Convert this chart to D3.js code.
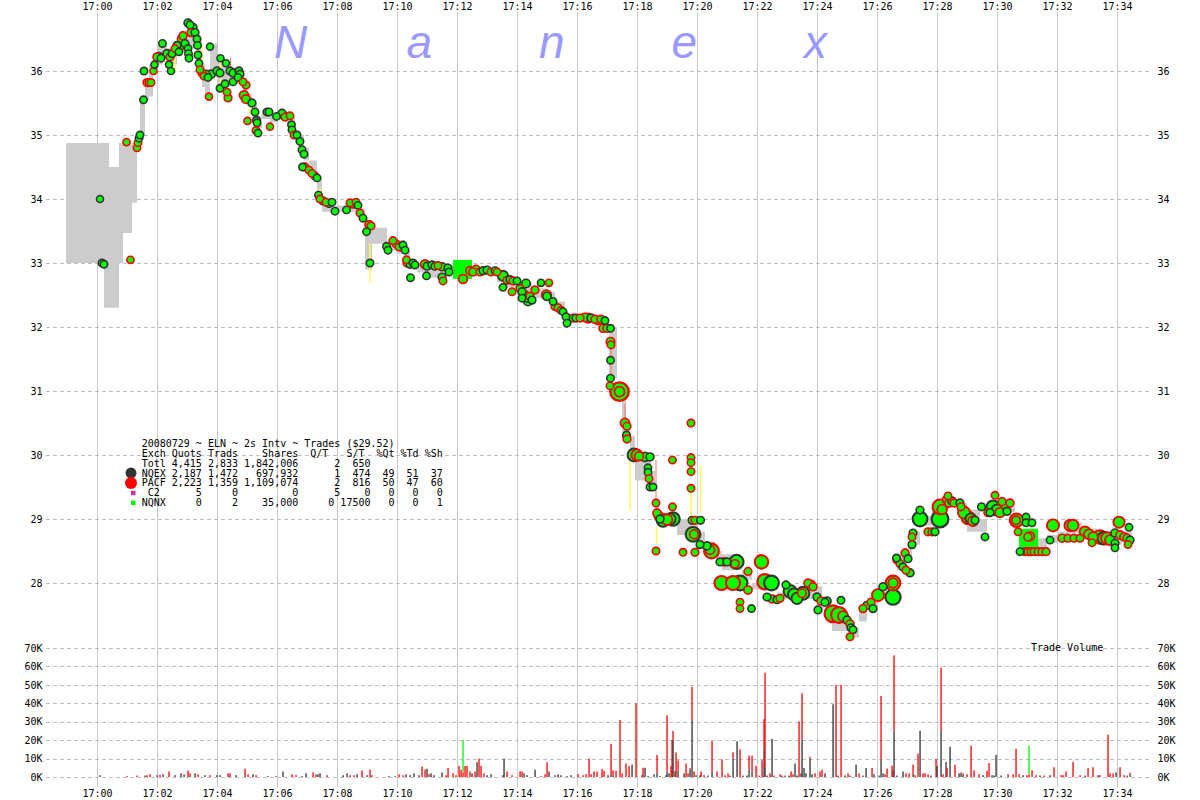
<!DOCTYPE html>
<html><head><meta charset="utf-8">
<script src="https://cdn.jsdelivr.net/npm/d3@7"></script>
<style>
body{margin:0;background:#fff}
svg{display:block}
text{font-family:"DejaVu Sans Mono",monospace;font-size:10px;fill:#000}
</style>
</head><body>
<svg id="chart" width="1200" height="800"></svg>
<script>
// ---------- tick values ----------
const timeTicks = [0,120,240,360,480,600,720,840,960,1080,1200,1320,1440,1560,1680,1800,1920,2040]; // seconds after 17:00:00
const priceTicks = [28,29,30,31,32,33,34,35,36];
const volumeTicks = [0,10,20,30,40,50,60,70]; // thousands of shares
const watermark = ["N","a","n","e","x"];

// ---------- legend table ----------
const legendTitle = "20080729 ~ ELN ~ 2s Intv ~ Trades ($29.52)";
const legendHeader = ["Exch","Quots","Trads","Shares","Q/T","S/T","%Qt","%Td","%Sh"];
const legendRows = [
  ["Totl","4,415","2,833","1,842,006","2","650","","",""],
  ["NQEX","2,187","1,472","697,932","1","474","49","51","37"],
  ["PACF","2,223","1,359","1,109,074","2","816","50","47","60"],
  [" C2","5","0","0","5","0","0","0","0"],
  ["NQNX","0","2","35,000","0","17500","0","0","1"]
];
const legendSwatch = ["", "", "", "NQEX", "PACF", "C2", "NQNX"];

// ---------- quotes: [t(s), low, high] step band ----------
const quotes = [
[-62,33.0,34.875],[14,32.3,34.875],[24,32.3,34.5],[44,33.0,34.875],[52,33.47,34.875],[70,33.94,34.875],[80,34.75,35.0],[86,35.0,35.6],[96,35.55,35.85],[104,35.6,36.1],[112,35.95,36.2],[120,36.1,36.4],[132,36.2,36.45],[140,36.1,36.35],[160,36.3,36.45],[180,36.35,36.6],[200,36.2,36.5],[210,35.75,36.1],[216,35.58,36.0],[226,35.9,36.43],[240,35.7,36.15],[256,35.75,36.05],[266,35.85,36.05],[280,35.8,36.0],[292,35.55,35.9],[300,35.45,35.65],[310,35.2,35.5],[320,35.1,35.3],[330,35.25,35.4],[346,35.2,35.33],[360,35.25,35.38],[376,35.2,35.35],[386,35.05,35.3],[396,34.9,35.05],[406,34.75,35.0],[414,34.6,34.8],[424,34.4,34.6],[440,34.0,34.35],[450,33.8,34.0],[476,33.8,33.9],[500,33.8,33.95],[526,33.65,33.85],[536,32.9,33.55],[550,33.3,33.55],[580,33.2,33.35],[600,33.15,33.35],[616,33.0,33.2],[626,32.9,33.05],[640,32.85,33.0],[660,32.77,32.97],[690,32.85,32.97],[720,32.72,32.92],[740,32.8,32.9],[780,32.82,32.9],[800,32.7,32.85],[820,32.62,32.78],[846,32.55,32.7],[870,32.45,32.6],[900,32.45,32.55],[916,32.25,32.4],[936,32.05,32.2],[950,32.1,32.16],[980,32.1,32.16],[1000,32.05,32.15],[1016,31.95,32.05],[1024,31.2,32.0],[1040,30.95,31.05],[1050,30.35,30.95],[1058,30.3,30.5],[1066,30.0,30.3],[1076,29.6,30.0],[1084,29.6,29.95],[1100,29.7,29.95],[1108,29.45,29.75],[1116,29.1,29.3],[1124,28.95,29.1],[1140,28.95,29.1],[1160,28.75,29.0],[1180,28.7,28.95],[1200,28.65,28.8],[1216,28.55,28.65],[1236,28.4,28.5],[1250,28.2,28.45],[1270,28.2,28.3],[1290,28.05,28.2],[1310,27.9,28.0],[1330,27.9,28.05],[1360,27.75,27.85],[1380,27.85,27.95],[1400,27.75,27.9],[1430,27.8,27.95],[1450,27.6,27.75],[1470,27.25,27.6],[1490,27.25,27.45],[1510,27.15,27.3],[1524,27.4,27.6],[1540,27.6,27.7],[1560,27.75,27.85],[1580,27.9,28.0],[1600,28.2,28.45],[1616,28.4,28.55],[1630,28.6,28.8],[1646,28.9,29.05],[1670,28.95,29.2],[1700,29.2,29.3],[1720,29.15,29.25],[1740,28.8,29.15],[1766,28.8,29.0],[1780,29.05,29.15],[1800,29.1,29.2],[1820,29.1,29.2],[1836,28.9,29.0],[1846,28.48,28.72],[1880,28.55,28.7],[1900,28.62,28.75],[1920,28.7,28.8],[1940,28.78,28.94],[1970,28.7,28.85],[2000,28.65,28.8],[2030,28.6,28.8],[2050,28.65,28.8],[2070,28.65,28.8]
];

// ---------- vertical quote flashes: [t, low, high] ----------
const yellowLines = [[156,35.98,36.28],[210,36.09,36.4],[247,35.78,36.14],[306,35.31,35.5],[446,34.03,34.17],[546,32.7,33.31],[1066,29.14,29.92],[1119,28.6,28.875],[1188,28.98,29.42],[1207,29.1,29.83]];
const redLines = [[267,35.86,36.2],[1028,31.05,31.72],[1118,29.3,29.92],[1056,30.8,30.5]];

// ---------- trades: [t(s), price, shares, exch] ----------
const trades = [
[6,34.0,200,"Q"],[10,33.0,300,"Q"],[14,32.98,300,"Q"],[59,34.89,250,"P"],[67,33.05,250,"P"],
[80,34.8,300,"P"],[82,34.88,300,"P"],[84,34.95,300,"Q"],[86,35.0,300,"Q"],
[93,35.55,300,"Q"],[94,36.0,300,"Q"],[100,35.82,400,"P"],[104,35.82,400,"P"],[108,35.82,300,"P"],
[113,36.0,200,"P"],[115,36.1,200,"Q"],[120,36.22,500,"P"],[124,36.22,800,"Q"],[128,36.2,300,"Q"],[131,36.43,300,"Q"],
[140,36.27,600,"Q"],[146,36.22,400,"P"],[150,36.27,300,"Q"],[144,36.1,200,"Q"],[148,36.0,200,"Q"],
[156,36.35,300,"P"],[160,36.4,400,"Q"],[164,36.3,300,"Q"],[166,36.38,500,"P"],[169,36.5,600,"P"],[176,36.43,400,"Q"],[172,36.55,500,"P"],
[182,36.75,500,"Q"],[186,36.72,400,"Q"],[192,36.68,500,"Q"],[188,36.6,400,"P"],[196,36.6,400,"Q"],
[182,36.35,300,"Q"],[183,36.27,300,"Q"],[184,36.2,300,"Q"],
[200,36.5,300,"Q"],[201,36.4,300,"Q"],[202,36.25,300,"Q"],[204,36.12,300,"Q"],[206,36.02,300,"P"],
[210,35.97,400,"P"],[214,35.92,300,"P"],[218,35.95,500,"Q"],[222,35.9,300,"Q"],[228,35.95,600,"Q"],[226,36.38,200,"Q"],[224,35.6,200,"P"],
[240,36.0,400,"Q"],[246,35.97,400,"Q"],[247,36.2,200,"Q"],[258,36.12,200,"Q"],[246,35.73,300,"Q"],[256,35.8,300,"Q"],[260,35.67,300,"P"],[262,35.58,400,"P"],
[266,36.0,400,"Q"],[272,35.97,400,"Q"],[278,35.97,500,"P"],[284,36.0,400,"Q"],[286,35.95,400,"Q"],[272,35.83,300,"Q"],[282,35.9,300,"Q"],
[292,35.83,300,"P"],[298,35.78,400,"P"],[294,35.62,1200,"P"],[298,35.56,800,"P"],[301,35.22,200,"P"],
[310,35.5,400,"Q"],[316,35.36,300,"Q"],[319,35.23,300,"Q"],[320,35.19,300,"Q"],[318,35.07,300,"P"],[322,35.03,300,"Q"],
[340,35.36,300,"Q"],[344,35.36,300,"Q"],[346,35.13,200,"P"],[359,35.29,300,"Q"],[370,35.34,400,"Q"],[374,35.3,500,"Q"],[376,35.28,400,"P"],[386,35.3,300,"P"],
[389,35.16,300,"Q"],[390,35.08,300,"Q"],[394,35.0,300,"P"],[400,35.0,300,"Q"],[406,34.9,300,"Q"],[410,34.77,300,"Q"],[414,34.7,300,"Q"],[411,34.5,300,"Q"],
[416,34.5,400,"P"],[424,34.45,300,"P"],[430,34.4,300,"P"],[436,34.36,400,"P"],[440,34.33,300,"Q"],
[443,34.06,300,"Q"],[446,34.0,300,"P"],[452,33.97,400,"Q"],[458,33.95,300,"P"],[464,33.93,400,"Q"],[470,33.95,300,"Q"],[476,33.81,300,"Q"],
[499,33.83,300,"Q"],[506,33.94,300,"P"],[512,33.92,400,"P"],[518,33.95,300,"P"],[522,33.9,300,"Q"],[526,33.78,300,"P"],[532,33.7,300,"Q"],
[539,33.49,300,"Q"],[544,33.6,600,"P"],[546,33.0,300,"Q"],[548,33.58,400,"P"],
[579,33.26,300,"Q"],[582,33.2,300,"Q"],[592,33.35,300,"P"],[598,33.3,400,"P"],[604,33.25,300,"P"],[612,33.28,300,"Q"],[616,33.2,300,"Q"],[619,33.05,300,"P"],
[620,33.0,400,"P"],[626,32.98,400,"Q"],[632,33.0,300,"Q"],[636,32.97,300,"Q"],[627,32.77,300,"Q"],
[656,32.98,1000,"P"],[660,32.95,400,"Q"],[659,32.8,300,"Q"],
[670,32.97,400,"Q"],[676,32.95,400,"Q"],[682,32.96,300,"P"],[690,32.94,500,"Q"],[690,32.78,400,"Q"],[692,32.72,300,"P"],[702,32.92,400,"Q"],[704,32.86,300,"Q"],
[731,32.9,17500,"N"],
[732,32.75,1000,"P"],[746,32.88,600,"P"],[752,32.86,500,"P"],[758,32.9,600,"P"],[766,32.86,400,"P"],[772,32.88,400,"Q"],[780,32.89,400,"Q"],[788,32.86,300,"P"],[796,32.88,300,"Q"],[800,32.86,300,"P"],
[812,32.8,2000,"Q"],[820,32.73,400,"P"],[826,32.74,400,"Q"],[832,32.72,400,"P"],[812,32.62,300,"Q"],[830,32.55,300,"P"],[840,32.72,300,"Q"],[858,32.68,800,"Q"],
[846,32.6,500,"P"],[850,32.55,500,"Q"],[856,32.5,600,"P"],[860,32.45,500,"Q"],[866,32.48,500,"P"],[870,32.42,400,"Q"],[850,32.45,300,"Q"],[876,32.58,400,"P"],[862,32.4,800,"Q"],
[888,32.69,200,"Q"],[904,32.69,200,"P"],[899,32.5,1500,"P"],[900,32.48,600,"Q"],[912,32.4,300,"Q"],[916,32.32,400,"P"],[922,32.3,400,"P"],[928,32.26,300,"P"],[932,32.24,300,"Q"],
[938,32.16,300,"Q"],[940,32.06,300,"Q"],[952,32.14,400,"P"],[958,32.14,400,"Q"],[966,32.14,400,"P"],[976,32.15,700,"P"],[982,32.14,1500,"P"],[988,32.14,500,"Q"],[996,32.12,500,"P"],[1002,32.1,600,"P"],[1008,32.12,500,"P"],[1016,32.1,300,"Q"],
[1012,31.98,500,"P"],[1020,31.98,500,"P"],[1027,31.98,300,"Q"],[1027,31.77,800,"P"],[1028,31.72,300,"P"],[1027,31.48,300,"Q"],[1027,31.2,300,"Q"],[1026,31.08,300,"P"],[1045,30.99,16000,"P"],[1045,30.99,2000,"P"],
[1056,30.5,1200,"P"],[1060,30.45,400,"P"],[1059,30.31,400,"Q"],[1060,30.25,400,"P"],
[1074,30.0,5000,"Q"],[1080,30.0,3000,"P"],[1084,29.98,1000,"P"],[1096,29.97,1200,"Q"],[1106,29.97,500,"Q"],[1102,29.8,300,"Q"],[1102,29.73,300,"Q"],[1104,29.63,300,"P"],[1106,29.5,300,"Q"],[1112,29.5,300,"Q"],
[1118,29.25,300,"P"],[1120,29.09,600,"P"],[1124,29.04,1200,"P"],[1126,29.0,500,"Q"],[1118,28.5,300,"P"],
[1132,28.98,5000,"Q"],[1140,28.99,2500,"P"],[1146,29.0,3000,"Q"],[1152,29.0,6000,"Q"],[1151,29.92,300,"P"],[1151,29.19,300,"P"],
[1188,30.5,300,"P"],[1188,29.96,300,"P"],[1188,29.88,300,"P"],[1188,29.74,300,"P"],[1188,29.48,300,"P"],
[1190,28.98,400,"Q"],[1196,28.98,400,"P"],[1207,28.98,400,"Q"],[1192,28.76,8000,"Q"],[1194,28.76,1000,"P"],
[1172,28.48,300,"P"],[1196,28.48,400,"P"],[1206,28.6,400,"Q"],[1229,28.5,8000,"P"],[1226,28.52,1200,"P"],[1220,28.58,500,"Q"],
[1246,28.33,400,"Q"],[1254,28.33,500,"P"],[1260,28.33,400,"Q"],[1279,28.33,7000,"Q"],[1276,28.3,600,"P"],
[1249,28.0,7000,"P"],[1272,28.0,7000,"P"],[1286,28.0,8000,"Q"],[1302,27.89,600,"P"],[1286,27.7,300,"P"],[1286,27.6,300,"P"],[1309,27.6,300,"Q"],[1302,28.18,400,"P"],
[1329,28.33,6000,"P"],[1336,28.02,9000,"P"],[1349,28.0,8000,"Q"],[1340,27.78,400,"Q"],[1350,27.75,500,"P"],[1360,27.74,400,"Q"],[1366,27.76,400,"P"],
[1378,27.97,400,"Q"],[1386,27.87,5000,"Q"],[1394,27.82,4000,"Q"],[1400,27.76,3000,"Q"],[1412,27.84,5000,"Q"],[1410,27.84,800,"P"],[1422,28.0,500,"P"],[1428,27.98,600,"P"],[1432,27.94,500,"P"],
[1440,27.78,500,"Q"],[1448,27.72,500,"P"],[1456,27.7,400,"Q"],[1460,27.72,500,"Q"],[1442,27.58,400,"Q"],
[1472,27.52,12000,"P"],[1484,27.5,10000,"P"],[1492,27.48,2000,"P"],[1488,27.73,300,"Q"],
[1500,27.42,500,"Q"],[1506,27.36,500,"P"],[1508,27.3,400,"Q"],[1512,27.27,300,"Q"],[1506,27.16,300,"P"],
[1532,27.6,400,"P"],[1540,27.65,500,"Q"],[1548,27.7,400,"P"],[1552,27.6,400,"Q"],[1562,27.81,4000,"P"],[1572,27.94,500,"Q"],[1592,28.0,8000,"P"],[1592,28.0,1500,"P"],[1592,27.78,9000,"Q"],
[1600,28.36,500,"P"],[1606,28.3,400,"P"],[1612,28.25,400,"Q"],[1618,28.2,400,"P"],[1626,28.16,500,"Q"],[1599,28.39,300,"Q"],[1616,28.47,400,"P"],[1622,28.38,400,"Q"],[1630,28.6,400,"Q"],[1632,28.78,400,"Q"],[1630,28.72,300,"P"],
[1646,29.0,8000,"Q"],[1646,29.14,400,"Q"],[1662,28.8,400,"P"],[1670,28.8,400,"P"],[1676,28.8,400,"Q"],[1686,29.0,12000,"Q"],[1686,29.19,8000,"P"],[1690,29.15,1500,"P"],
[1700,29.3,1000,"P"],[1704,29.25,600,"P"],[1710,29.28,600,"Q"],[1702,29.36,300,"P"],[1714,29.25,500,"P"],[1726,29.25,400,"Q"],[1728,29.19,400,"P"],
[1734,29.1,4000,"P"],[1742,29.02,5000,"P"],[1748,29.0,3000,"Q"],[1752,28.97,2000,"P"],[1756,28.98,400,"Q"],[1769,29.19,400,"Q"],[1776,28.72,300,"Q"],[1782,29.1,500,"P"],[1786,29.1,400,"Q"],
[1796,29.37,300,"P"],[1792,29.19,5000,"Q"],[1800,29.14,3000,"Q"],[1806,29.1,1500,"P"],[1816,29.22,600,"P"],[1820,29.12,500,"Q"],[1826,29.25,500,"P"],[1810,29.27,500,"P"],
[1839,28.98,6000,"P"],[1838,28.98,800,"P"],[1842,28.8,300,"P"],[1846,28.49,300,"Q"],[1858,29.03,300,"Q"],[1858,28.94,300,"Q"],
[1863,28.7,17500,"N"],
[1862,28.72,600,"P"],[1866,28.73,1000,"P"],[1856,28.49,400,"P"],[1862,28.49,400,"P"],[1868,28.49,400,"P"],[1874,28.49,400,"P"],[1882,28.49,400,"P"],[1890,28.49,400,"P"],[1898,28.49,400,"P"],[1870,28.94,300,"Q"],
[1906,28.67,300,"Q"],[1912,28.9,4000,"P"],[1930,28.7,500,"P"],[1942,28.7,400,"P"],[1954,28.7,400,"P"],[1966,28.7,400,"P"],[1946,28.9,3000,"P"],[1952,28.9,3000,"P"],
[1976,28.8,2500,"P"],[1984,28.76,2000,"P"],[1992,28.72,1500,"P"],[1990,28.63,300,"P"],[2006,28.72,6000,"P"],[2014,28.7,5000,"Q"],[2020,28.7,4000,"P"],[2026,28.67,2000,"P"],
[2036,28.78,600,"Q"],[2036,28.62,400,"Q"],[2036,28.55,300,"Q"],[2044,28.95,3000,"P"],[2046,28.75,600,"P"],[2054,28.72,600,"P"],[2060,28.7,500,"P"],[2064,28.87,300,"Q"],[2066,28.67,400,"Q"],[2062,28.6,300,"P"]
];

// ---------- volume per 2s interval: [t, NQEX, PACF, NQNX] (thousands) ----------
const volume = [
[6,1,0,0],[60,0,0.5,0],[80,0,0.8,0],[96,0.8,0,0],[100,0,1,0],[106,0,1.5,0],[120,1,0,0],[126,0,1.2,0],[132,1.5,0,0],[144,0,3,0],[156,1,0,0],[168,2,0,0],[174,1,0.5,0],[182,0.5,3,0],[186,0,2,0],[196,2,0,0],[202,0,1.5,0],[216,1,0,0],[226,0,1,0],[240,1,0,0],[246,1,0,0],[262,0,2,0],[266,0.5,1.5,0],[278,1,0,0],[296,0.5,4,0],[302,0,1.5,0],[312,1.5,0,0],[318,0,1,0],[342,0.5,0,0],[358,0,0.5,0],
[372,3,0,0],[390,0,1.5,0],[398,0,1,0],[410,0.5,0,0],[418,2,0,0],[432,0,2.5,0],[438,0,1.5,0],[442,1.5,0,0],[446,2,0,0],[460,0,1,0],[492,1,0,0],[500,2,0,0],[506,0,1,0],[514,0,1,0],[520,1.5,0,0],[530,0,3.5,0],[540,1,0,0],[546,0,4,0],[550,0,1,0],[584,0.5,0,0],[596,0.5,0,0],[604,0,1.5,0],[612,0,1,0],[618,1.5,0,0],[626,1,0,0],[634,2,0,0],[644,1,0,0],
[650,0,5.7,0],[656,0,4,0],[660,4.5,0,0],[664,0,1.5,0],[668,2,0,0],[674,1,0,0],[690,2.5,0,0],[698,0,1,0],[702,0,5,0],[712,0,2,0],[718,0,1,0],[724,0,6,0],[728,0,4,0],[732,0,2.5,17.5],[736,0,6,0],[740,0,6,0],[746,0,3,0],[750,2,0,0],[756,0,3,0],[760,8,0,0],[764,0,10,0],[768,0,6,0],[774,0,2,0],[780,1,0,0],[788,1.5,0,0],
[812,1,0,0],[814,10,0,0],[820,0,3,0],[830,0,1,0],[846,0,3,0],[850,0,3,0],[854,2,0,0],[860,1,0,0],[876,4,0,0],[888,0,0.5,0],[896,0,1.5,0],[900,0,8,0],[904,3,0,0],[916,1,0,0],[922,1.5,0,0],[928,1,0,0],[940,0.5,0,0],[948,1,0,0],[962,0,1.5,0],[972,0,1,0],[978,0,1.5,0],[984,0,10,0],[988,0,1.5,0],[994,0,3,0],
[1000,0.5,2.5,0],[1010,0,4.3,0],[1014,0,3.4,0],[1022,1,0,0],[1028,1.5,16.5,0],[1032,0,3.6,0],[1038,0,3.4,0],[1046,0,31,0],[1050,0,2,0],[1058,0,7.3,0],[1064,1,5,0],[1070,6.7,0,0],[1078,0,40,0],[1090,1,0,0],[1092,0,5,0],[1096,5,0,0],[1102,0.5,0,0],[1114,1.5,0,0],[1120,2,10,0],[1126,0.5,0,0],[1138,1,0,0],[1140,3,30.5,0],[1144,2,0,0],[1148,0,6,0],[1150,0,20,0],[1152,20,5,0],[1156,3.3,0,0],[1158,0,13.3,0],[1162,3.5,5.5,0],[1174,2,0,0],[1178,0,7.3,0],[1182,0,2,0],[1186,3.8,1,0],[1190,31,18,0],[1194,0,3,0],[1198,1,0,0],
[1206,1,0,0],[1208,0,3,0],[1214,0,1,0],[1222,0.8,0,0],[1230,3,16.5,0],[1240,0,3,0],[1250,0,9.5,0],[1256,0.8,0,0],[1262,0,2,0],[1266,0.8,0,0],[1272,10,3.4,0],[1280,19.4,0,0],[1286,0,15,0],[1292,0.8,0,0],[1300,0.8,0,0],[1304,4,7.6,0],[1310,3,8.6,0],[1318,0,6,0],[1324,0,0.8,0],[1330,0,9.1,0],[1334,15.9,15.5,0],[1336,5,51.5,0],[1340,0.8,0,0],[1346,0,2,0],[1350,20.7,0,0],[1354,0,0.8,0],[1366,0,1.5,0],[1370,0.8,0,0],[1376,0.8,0,0],[1384,0.8,0,0],[1388,0,3,0],[1392,0,1.5,0],[1396,7.3,0,0],
[1400,0.8,0,0],[1404,0,30.2,0],[1408,2,0,0],[1410,20.4,25,0],[1414,4.9,0,0],[1418,2,0,0],[1426,10,1,0],[1430,1.5,0,0],[1436,0,2,0],[1446,0,3,0],[1450,0,4,0],[1456,2,0,0],[1472,39.5,0,0],[1478,0,50,0],[1482,0.8,0,0],[1488,0,50,0],[1496,0.8,0,0],[1502,0,2,0],[1506,0.8,0,0],[1518,6.7,0,0],[1524,0,2,0],[1532,0.8,0,0],[1538,4.9,0,0],[1550,0,4.9,0],[1554,1.5,0,0],[1564,0.8,0,0],[1568,9.5,34.5,0],[1572,2,0,0],[1576,0,1.5,0],[1580,0,4.6,0],[1590,0,6.2,0],[1592,0,3.6,0],[1594,24.6,41.4,0],
[1600,0.8,0,0],[1612,3,0,0],[1618,0,2,0],[1624,0,2,0],[1632,2,4.7,0],[1636,0,1,0],[1642,0,12.7,0],[1646,25.1,0,0],[1652,0,2,0],[1656,0,2,0],[1662,0,1.5,0],[1668,0.8,0,0],[1678,0,9.8,0],[1680,6,0,0],[1688,25,34.4,0],[1692,0,1.5,0],[1698,8.2,0,0],[1700,0,4.9,0],[1706,16.4,0,0],[1716,0,6.6,0],[1724,2,0,0],[1728,2,0.5,0],[1732,1,1,0],[1740,0,1.5,0],[1748,0,17,0],[1754,0,3.6,0],[1764,0,1.5,0],[1772,1,0,0],[1780,0,3.3,0],[1784,0,7.6,0],[1790,1,0,0],[1794,0.8,0,0],[1798,12,0,0],
[1808,0.8,0,0],[1822,0.5,1,0],[1832,0,1.5,0],[1838,0,15.3,0],[1844,0,1.5,0],[1852,1,0,0],[1860,0,1,0],[1864,0,1.5,15.5],[1870,0,3.6,0],[1878,0,1,0],[1886,0.8,0,0],[1894,0,0.8,0],[1906,1,0,0],[1914,0,5.3,0],[1928,0,1,0],[1932,0,1,0],[1938,0,3,0],[1952,0,8.2,0],[1966,0,1,0],[1976,0.8,0,0],[1982,0,4.8,0],[1992,0,5.3,0],
[2002,1,0,0],[2006,0,1,0],[2022,0,23,0],[2026,0,2,0],[2032,0,2,0],[2038,2.5,0,0],[2046,0,5.3,0],[2054,0,1,0],[2060,0.8,0,0],[2066,1,1.3,0]
];

// ---------- styling ----------
const exchColor = {P:"#ff0000", Q:"#333333", N:"#00ff00"};
const swatchColor = {NQEX:"#333333", PACF:"#ff0000", C2:"#c0399a", NQNX:"#00ff00"};

const svg = d3.select("#chart");
const x = d3.scaleLinear().domain([0, 2040]).range([97, 1117]);
const y = d3.scaleLinear().domain([28, 36]).range([583, 71]);
const yv = d3.scaleLinear().domain([0, 70]).range([777, 648]);
const r = d3.scaleSqrt().domain([0, 20000]).range([2.8, 10]).clamp(true);
const fmtTime = t => "17:" + String(Math.floor(t / 60)).padStart(2, "0");

// grid
const grid = svg.append("g");
grid.selectAll(".vg").data(timeTicks).join("line")
  .attr("x1", d => x(d) + 0.5).attr("x2", d => x(d) + 0.5)
  .attr("y1", 12).attr("y2", 787).attr("stroke", "#c8c8c8").attr("stroke-width", 1);
grid.selectAll(".hp").data(priceTicks).join("line")
  .attr("x1", 46).attr("x2", 1152).attr("y1", d => Math.round(y(d)) + 0.5).attr("y2", d => Math.round(y(d)) + 0.5)
  .attr("stroke", "#c0c0c0").attr("stroke-dasharray", "4,3");
grid.selectAll(".hv").data(volumeTicks).join("line")
  .attr("x1", 46).attr("x2", 1152).attr("y1", d => Math.round(yv(d)) + 0.5).attr("y2", d => Math.round(yv(d)) + 0.5)
  .attr("stroke", "#c0c0c0").attr("stroke-dasharray", "4,3");

// watermark
svg.append("g").selectAll("text").data(watermark).join("text")
  .attr("x", (d, i) => 274 + i * 132.5).attr("y", 58)
  .style("font-family", "'Liberation Sans', Arial, sans-serif").style("font-size", "46px")
  .style("font-style", "italic").style("fill", "#9999ff").text(d => d);

// quote band
svg.append("path").datum(quotes)
  .attr("fill", "#cccccc")
  .attr("d", d3.area().x(d => x(d[0])).y0(d => y(d[1])).y1(d => y(d[2])).curve(d3.curveStepAfter));

// flashes
svg.append("g").selectAll("line").data(yellowLines).join("line")
  .attr("x1", d => x(d[0])).attr("x2", d => x(d[0])).attr("y1", d => y(d[1])).attr("y2", d => y(d[2]))
  .attr("stroke", "#ffff55").attr("stroke-width", 1.5);
svg.append("g").selectAll("line").data(redLines).join("line")
  .attr("x1", d => x(d[0])).attr("x2", d => x(d[0])).attr("y1", d => y(d[1])).attr("y2", d => y(d[2]))
  .attr("stroke", "#ff7070").attr("stroke-width", 1);

// trades
const sorted = trades.slice().sort((a, b) => b[2] - a[2]);
const tg = svg.append("g");
tg.selectAll("rect").data(sorted.filter(d => d[3] === "N")).join("rect")
  .attr("x", d => x(d[0]) - r(d[2])).attr("y", d => y(d[1]) - r(d[2]))
  .attr("width", d => 2 * r(d[2])).attr("height", d => 2 * r(d[2]))
  .attr("fill", "#00ff00");
tg.selectAll("circle").data(sorted.filter(d => d[3] !== "N")).join("circle")
  .attr("cx", d => x(d[0])).attr("cy", d => y(d[1])).attr("r", d => r(d[2]))
  .attr("fill", "#00ff00").attr("stroke", d => exchColor[d[3]])
  .attr("stroke-width", d => 1.1 + r(d[2]) * 0.14);

// volume bars
const vg = svg.append("g");
volume.forEach(d => {
  let base = 0;
  [["Q", d[1]], ["P", d[2]], ["N", d[3]]].forEach(([ex, v]) => {
    if (v > 0) {
      vg.append("rect").attr("x", x(d[0]) - 0.6).attr("width", 1.3)
        .attr("y", yv(base + v)).attr("height", yv(base) - yv(base + v))
        .attr("fill", exchColor[ex]);
      base += v;
    }
  });
});
svg.append("text").attr("x", 1031).attr("y", 651).text("Trade Volume");

// axes
function styleAxis(g) { g.select(".domain").remove(); g.selectAll(".tick line").remove(); g.attr("font-family", null).attr("font-size", null); }
svg.append("g").attr("transform", "translate(0,12.5)")
  .call(d3.axisTop(x).tickValues(timeTicks).tickFormat(fmtTime).tickSize(0).tickPadding(3)).call(styleAxis);
svg.append("g").attr("transform", "translate(0,787)")
  .call(d3.axisBottom(x).tickValues(timeTicks).tickFormat(fmtTime).tickSize(0).tickPadding(3)).call(styleAxis);
svg.append("g").attr("transform", "translate(45.5,0)")
  .call(d3.axisLeft(y).tickValues(priceTicks).tickFormat(d3.format("d")).tickSize(0).tickPadding(3)).call(styleAxis);
svg.append("g").attr("transform", "translate(1154.5,0)")
  .call(d3.axisRight(y).tickValues(priceTicks).tickFormat(d3.format("d")).tickSize(0).tickPadding(3)).call(styleAxis);
svg.append("g").attr("transform", "translate(45.5,0)")
  .call(d3.axisLeft(yv).tickValues(volumeTicks).tickFormat(d => d + "K").tickSize(0).tickPadding(3)).call(styleAxis);
svg.append("g").attr("transform", "translate(1154.5,0)")
  .call(d3.axisRight(yv).tickValues(volumeTicks).tickFormat(d => d + "K").tickSize(0).tickPadding(3)).call(styleAxis);

// legend
const headerEnds = [3, 9, 15, 25, 30, 36, 41, 45, 49];
const rowEnds = [3, 9, 15, 25, 32, 37, 41, 45, 49];
function buildRow(cells, ends) {
  let s = cells[0];
  for (let i = 1; i < cells.length; i++) {
    let end = ends[i];
    if (cells[0] === "NQNX" && i === 4) end = 31;
    const c = cells[i];
    if (!c) continue;
    const start = end + 1 - c.length;
    s = s.length < start ? s.padEnd(start) + c : s + " " + c;
  }
  return s;
}
const legendLines = [legendTitle, buildRow(legendHeader, headerEnds)].concat(legendRows.map(rw => buildRow(rw, rowEnds)));
const lx = 141.7, ly0 = 447, ldy = 9.85;
const lg = svg.append("g");
lg.selectAll("text").data(legendLines).join("text")
  .attr("x", lx).attr("y", (d, i) => ly0 + i * ldy)
  .attr("xml:space", "preserve").style("white-space", "pre").text(d => d);
legendSwatch.forEach((s, i) => {
  if (!s) return;
  const cy = ly0 + i * ldy - 3.5;
  if (s === "NQEX" || s === "PACF") {
    lg.append("circle").attr("cx", 131).attr("cy", cy).attr("r", s === "NQEX" ? 5.5 : 6).attr("fill", swatchColor[s]);
  } else {
    lg.append("rect").attr("x", 131).attr("y", cy - 2).attr("width", 4.5).attr("height", 4.5).attr("fill", swatchColor[s]);
  }
});
</script>
</body></html>
